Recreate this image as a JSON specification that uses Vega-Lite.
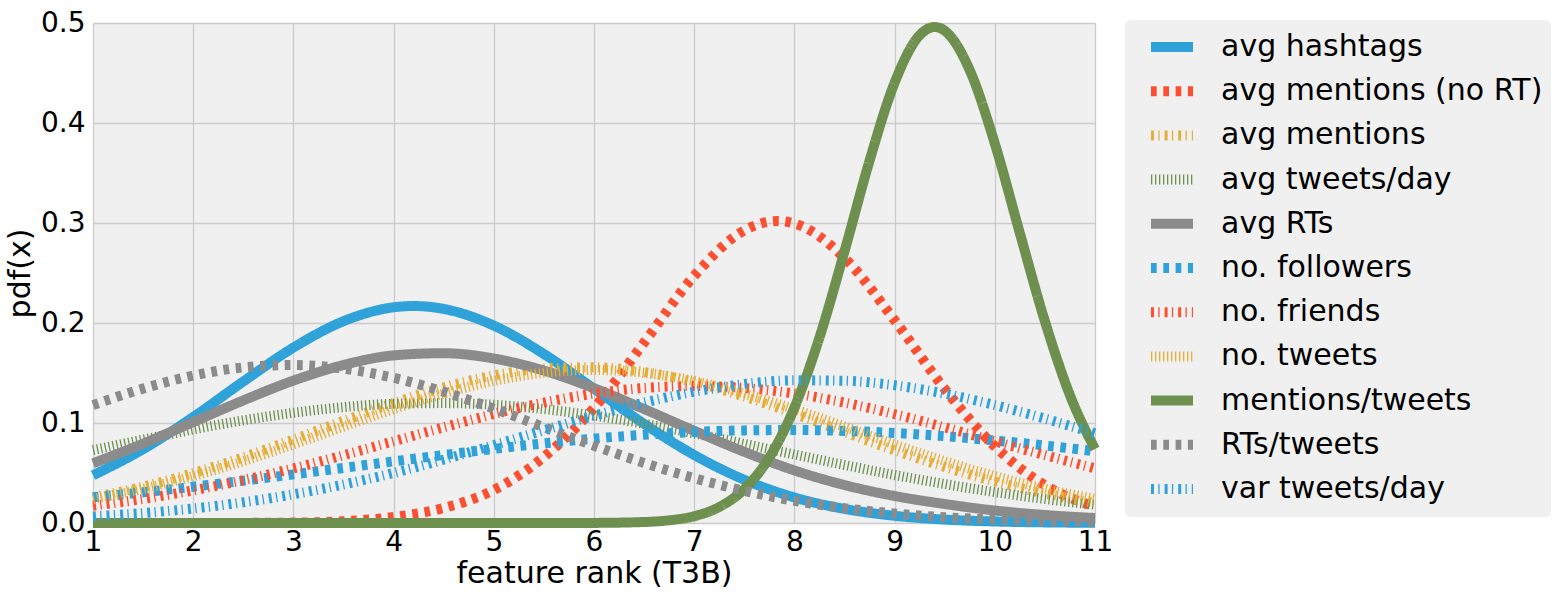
{
  "$schema": "https://vega.github.io/schema/vega-lite/v6.json",
  "width": 1002,
  "height": 500,
  "autosize": "none",
  "padding": {"left": 93, "top": 23, "right": 468, "bottom": 75},
  "background": "white",
  "config": {
    "font": "DejaVu Sans",
    "view": {"fill": "#f0f0f0", "stroke": null},
    "axis": {
      "domain": false,
      "ticks": false,
      "grid": true,
      "gridColor": "#cbcbcb",
      "gridWidth": 1.3,
      "labelFont": "DejaVu Sans",
      "labelFontSize": 28,
      "labelColor": "black",
      "labelFlush": false,
      "titleFont": "DejaVu Sans",
      "titleFontSize": 30,
      "titleFontWeight": "normal",
      "titleColor": "black"
    }
  },
  "data": {
    "values": [
      {"s":"avg hashtags","x":1,"y":0.0477},{"s":"avg hashtags","x":1.5,"y":0.0738},{"s":"avg hashtags","x":2,"y":0.106},{"s":"avg hashtags","x":2.5,"y":0.1415},{"s":"avg hashtags","x":3,"y":0.1754},{"s":"avg hashtags","x":3.5,"y":0.2018},{"s":"avg hashtags","x":4,"y":0.2157},{"s":"avg hashtags","x":4.2,"y":0.217},{"s":"avg hashtags","x":4.5,"y":0.2141},{"s":"avg hashtags","x":5,"y":0.1974},{"s":"avg hashtags","x":5.5,"y":0.169},{"s":"avg hashtags","x":6,"y":0.1343},{"s":"avg hashtags","x":6.5,"y":0.0992},{"s":"avg hashtags","x":7,"y":0.068},{"s":"avg hashtags","x":7.5,"y":0.0433},{"s":"avg hashtags","x":8,"y":0.0256},{"s":"avg hashtags","x":8.5,"y":0.0141},{"s":"avg hashtags","x":9,"y":0.0072},{"s":"avg hashtags","x":9.5,"y":0.0034},{"s":"avg hashtags","x":10,"y":0.0015},{"s":"avg hashtags","x":10.5,"y":0.0006},{"s":"avg hashtags","x":11,"y":0.0002},

      {"s":"avg mentions (no RT)","x":1,"y":0},{"s":"avg mentions (no RT)","x":1.5,"y":0},{"s":"avg mentions (no RT)","x":2,"y":0},{"s":"avg mentions (no RT)","x":2.5,"y":0.0001},{"s":"avg mentions (no RT)","x":3,"y":0.0004},{"s":"avg mentions (no RT)","x":3.5,"y":0.0018},{"s":"avg mentions (no RT)","x":4,"y":0.006},{"s":"avg mentions (no RT)","x":4.5,"y":0.015},{"s":"avg mentions (no RT)","x":5,"y":0.033},{"s":"avg mentions (no RT)","x":5.5,"y":0.066},{"s":"avg mentions (no RT)","x":6,"y":0.115},{"s":"avg mentions (no RT)","x":6.5,"y":0.1804},{"s":"avg mentions (no RT)","x":7,"y":0.2471},{"s":"avg mentions (no RT)","x":7.5,"y":0.2926},{"s":"avg mentions (no RT)","x":7.83,"y":0.302},{"s":"avg mentions (no RT)","x":8,"y":0.2995},{"s":"avg mentions (no RT)","x":8.5,"y":0.265},{"s":"avg mentions (no RT)","x":9,"y":0.2027},{"s":"avg mentions (no RT)","x":9.5,"y":0.134},{"s":"avg mentions (no RT)","x":10,"y":0.0766},{"s":"avg mentions (no RT)","x":10.5,"y":0.0378},{"s":"avg mentions (no RT)","x":11,"y":0.0162},

      {"s":"avg mentions","x":1,"y":0.0256},{"s":"avg mentions","x":1.5,"y":0.0364},{"s":"avg mentions","x":2,"y":0.0499},{"s":"avg mentions","x":2.5,"y":0.0658},{"s":"avg mentions","x":3,"y":0.0835},{"s":"avg mentions","x":3.5,"y":0.102},{"s":"avg mentions","x":4,"y":0.1199},{"s":"avg mentions","x":4.5,"y":0.1356},{"s":"avg mentions","x":5,"y":0.1476},{"s":"avg mentions","x":5.5,"y":0.1545},{"s":"avg mentions","x":6,"y":0.1557},{"s":"avg mentions","x":6.5,"y":0.151},{"s":"avg mentions","x":7,"y":0.1409},{"s":"avg mentions","x":7.5,"y":0.1265},{"s":"avg mentions","x":8,"y":0.1093},{"s":"avg mentions","x":8.5,"y":0.0909},{"s":"avg mentions","x":9,"y":0.0727},{"s":"avg mentions","x":9.5,"y":0.056},{"s":"avg mentions","x":10,"y":0.0415},{"s":"avg mentions","x":10.5,"y":0.0296},{"s":"avg mentions","x":11,"y":0.0203},

      {"s":"avg tweets/day","x":1,"y":0.0728},{"s":"avg tweets/day","x":1.5,"y":0.0834},{"s":"avg tweets/day","x":2,"y":0.0935},{"s":"avg tweets/day","x":2.5,"y":0.1027},{"s":"avg tweets/day","x":3,"y":0.1102},{"s":"avg tweets/day","x":3.5,"y":0.1159},{"s":"avg tweets/day","x":4,"y":0.1192},{"s":"avg tweets/day","x":4.5,"y":0.1199},{"s":"avg tweets/day","x":5,"y":0.1182},{"s":"avg tweets/day","x":5.5,"y":0.1139},{"s":"avg tweets/day","x":6,"y":0.1074},{"s":"avg tweets/day","x":6.5,"y":0.0992},{"s":"avg tweets/day","x":7,"y":0.0896},{"s":"avg tweets/day","x":7.5,"y":0.0792},{"s":"avg tweets/day","x":8,"y":0.0685},{"s":"avg tweets/day","x":8.5,"y":0.058},{"s":"avg tweets/day","x":9,"y":0.048},{"s":"avg tweets/day","x":9.5,"y":0.039},{"s":"avg tweets/day","x":10,"y":0.0309},{"s":"avg tweets/day","x":10.5,"y":0.024},{"s":"avg tweets/day","x":11,"y":0.0182},

      {"s":"avg RTs","x":1,"y":0.0597},{"s":"avg RTs","x":1.5,"y":0.0794},{"s":"avg RTs","x":2,"y":0.1009},{"s":"avg RTs","x":2.5,"y":0.1226},{"s":"avg RTs","x":3,"y":0.1424},{"s":"avg RTs","x":3.5,"y":0.158},{"s":"avg RTs","x":4,"y":0.1676},{"s":"avg RTs","x":4.5,"y":0.1698},{"s":"avg RTs","x":5,"y":0.1645},{"s":"avg RTs","x":5.5,"y":0.1524},{"s":"avg RTs","x":6,"y":0.1348},{"s":"avg RTs","x":6.5,"y":0.114},{"s":"avg RTs","x":7,"y":0.0922},{"s":"avg RTs","x":7.5,"y":0.0712},{"s":"avg RTs","x":8,"y":0.0526},{"s":"avg RTs","x":8.5,"y":0.038},{"s":"avg RTs","x":9,"y":0.027},{"s":"avg RTs","x":9.5,"y":0.019},{"s":"avg RTs","x":10,"y":0.0125},{"s":"avg RTs","x":10.5,"y":0.008},{"s":"avg RTs","x":11,"y":0.005},

      {"s":"no. followers","x":1,"y":0.0257},{"s":"no. followers","x":1.5,"y":0.0307},{"s":"no. followers","x":2,"y":0.0363},{"s":"no. followers","x":2.5,"y":0.0423},{"s":"no. followers","x":3,"y":0.0486},{"s":"no. followers","x":3.5,"y":0.0551},{"s":"no. followers","x":4,"y":0.0616},{"s":"no. followers","x":4.5,"y":0.068},{"s":"no. followers","x":5,"y":0.0741},{"s":"no. followers","x":5.5,"y":0.0796},{"s":"no. followers","x":6,"y":0.0844},{"s":"no. followers","x":6.5,"y":0.0882},{"s":"no. followers","x":7,"y":0.091},{"s":"no. followers","x":7.5,"y":0.0926},{"s":"no. followers","x":8,"y":0.093},{"s":"no. followers","x":8.5,"y":0.0921},{"s":"no. followers","x":9,"y":0.09},{"s":"no. followers","x":9.5,"y":0.0868},{"s":"no. followers","x":10,"y":0.0825},{"s":"no. followers","x":10.5,"y":0.0775},{"s":"no. followers","x":11,"y":0.0717},

      {"s":"no. friends","x":1,"y":0.0173},{"s":"no. friends","x":1.5,"y":0.0241},{"s":"no. friends","x":2,"y":0.0326},{"s":"no. friends","x":2.5,"y":0.0428},{"s":"no. friends","x":3,"y":0.0546},{"s":"no. friends","x":3.5,"y":0.0678},{"s":"no. friends","x":4,"y":0.0817},{"s":"no. friends","x":4.5,"y":0.0957},{"s":"no. friends","x":5,"y":0.1089},{"s":"no. friends","x":5.5,"y":0.1204},{"s":"no. friends","x":6,"y":0.1294},{"s":"no. friends","x":6.5,"y":0.135},{"s":"no. friends","x":7,"y":0.137},{"s":"no. friends","x":7.5,"y":0.135},{"s":"no. friends","x":8,"y":0.1294},{"s":"no. friends","x":8.5,"y":0.1204},{"s":"no. friends","x":9,"y":0.1089},{"s":"no. friends","x":9.5,"y":0.0957},{"s":"no. friends","x":10,"y":0.0817},{"s":"no. friends","x":10.5,"y":0.0678},{"s":"no. friends","x":11,"y":0.0546},

      {"s":"no. tweets","x":1,"y":0.0241},{"s":"no. tweets","x":1.5,"y":0.0342},{"s":"no. tweets","x":2,"y":0.0469},{"s":"no. tweets","x":2.5,"y":0.0618},{"s":"no. tweets","x":3,"y":0.0786},{"s":"no. tweets","x":3.5,"y":0.0964},{"s":"no. tweets","x":4,"y":0.1138},{"s":"no. tweets","x":4.5,"y":0.1295},{"s":"no. tweets","x":5,"y":0.1421},{"s":"no. tweets","x":5.5,"y":0.1502},{"s":"no. tweets","x":6,"y":0.153},{"s":"no. tweets","x":6.5,"y":0.1502},{"s":"no. tweets","x":7,"y":0.1421},{"s":"no. tweets","x":7.5,"y":0.1295},{"s":"no. tweets","x":8,"y":0.1138},{"s":"no. tweets","x":8.5,"y":0.0964},{"s":"no. tweets","x":9,"y":0.0786},{"s":"no. tweets","x":9.5,"y":0.0618},{"s":"no. tweets","x":10,"y":0.0469},{"s":"no. tweets","x":10.5,"y":0.0342},{"s":"no. tweets","x":11,"y":0.0241},

      {"s":"mentions/tweets","x":1,"y":0},{"s":"mentions/tweets","x":2,"y":0},{"s":"mentions/tweets","x":3,"y":0},{"s":"mentions/tweets","x":4,"y":0},{"s":"mentions/tweets","x":5,"y":0},{"s":"mentions/tweets","x":5.5,"y":0},{"s":"mentions/tweets","x":6,"y":0.0001},{"s":"mentions/tweets","x":6.5,"y":0.001},{"s":"mentions/tweets","x":6.75,"y":0.0027},{"s":"mentions/tweets","x":7,"y":0.0068},{"s":"mentions/tweets","x":7.25,"y":0.016},{"s":"mentions/tweets","x":7.5,"y":0.0339},{"s":"mentions/tweets","x":7.75,"y":0.0655},{"s":"mentions/tweets","x":8,"y":0.1155},{"s":"mentions/tweets","x":8.25,"y":0.1855},{"s":"mentions/tweets","x":8.5,"y":0.2716},{"s":"mentions/tweets","x":8.75,"y":0.3623},{"s":"mentions/tweets","x":9,"y":0.4403},{"s":"mentions/tweets","x":9.25,"y":0.4878},{"s":"mentions/tweets","x":9.4,"y":0.496},{"s":"mentions/tweets","x":9.5,"y":0.4923},{"s":"mentions/tweets","x":9.75,"y":0.4528},{"s":"mentions/tweets","x":10,"y":0.3795},{"s":"mentions/tweets","x":10.25,"y":0.2899},{"s":"mentions/tweets","x":10.5,"y":0.2017},{"s":"mentions/tweets","x":10.75,"y":0.1279},{"s":"mentions/tweets","x":11,"y":0.0739},

      {"s":"RTs/tweets","x":1,"y":0.1179},{"s":"RTs/tweets","x":1.5,"y":0.1344},{"s":"RTs/tweets","x":2,"y":0.1474},{"s":"RTs/tweets","x":2.5,"y":0.1556},{"s":"RTs/tweets","x":3,"y":0.158},{"s":"RTs/tweets","x":3.5,"y":0.1544},{"s":"RTs/tweets","x":4,"y":0.1452},{"s":"RTs/tweets","x":4.5,"y":0.1313},{"s":"RTs/tweets","x":5,"y":0.1144},{"s":"RTs/tweets","x":5.5,"y":0.0958},{"s":"RTs/tweets","x":6,"y":0.0773},{"s":"RTs/tweets","x":6.5,"y":0.06},{"s":"RTs/tweets","x":7,"y":0.0448},{"s":"RTs/tweets","x":7.5,"y":0.0322},{"s":"RTs/tweets","x":8,"y":0.0222},{"s":"RTs/tweets","x":8.5,"y":0.0148},{"s":"RTs/tweets","x":9,"y":0.0095},{"s":"RTs/tweets","x":9.5,"y":0.0058},{"s":"RTs/tweets","x":10,"y":0.0035},{"s":"RTs/tweets","x":10.5,"y":0.002},{"s":"RTs/tweets","x":11,"y":0.0011},

      {"s":"var tweets/day","x":1,"y":0.0066},{"s":"var tweets/day","x":1.5,"y":0.0099},{"s":"var tweets/day","x":2,"y":0.0145},{"s":"var tweets/day","x":2.5,"y":0.0207},{"s":"var tweets/day","x":3,"y":0.0287},{"s":"var tweets/day","x":3.5,"y":0.0385},{"s":"var tweets/day","x":4,"y":0.0501},{"s":"var tweets/day","x":4.5,"y":0.0634},{"s":"var tweets/day","x":5,"y":0.0778},{"s":"var tweets/day","x":5.5,"y":0.0927},{"s":"var tweets/day","x":6,"y":0.1072},{"s":"var tweets/day","x":6.5,"y":0.1204},{"s":"var tweets/day","x":7,"y":0.1313},{"s":"var tweets/day","x":7.5,"y":0.1389},{"s":"var tweets/day","x":8,"y":0.1427},{"s":"var tweets/day","x":8.5,"y":0.1422},{"s":"var tweets/day","x":9,"y":0.1377},{"s":"var tweets/day","x":9.5,"y":0.1293},{"s":"var tweets/day","x":10,"y":0.1179},{"s":"var tweets/day","x":10.5,"y":0.1044},{"s":"var tweets/day","x":11,"y":0.0897}
    ]
  },
  "mark": {"type": "line", "strokeWidth": 10, "interpolate": "monotone", "strokeCap": "butt", "strokeJoin": "round"},
  "encoding": {
    "x": {
      "field": "x", "type": "quantitative",
      "scale": {"domain": [1, 11], "nice": false, "zero": false},
      "axis": {"title": "feature rank (T3B)", "values": [1,2,3,4,5,6,7,8,9,10,11], "format": "d", "labelPadding": 5, "titlePadding": 2}
    },
    "y": {
      "field": "y", "type": "quantitative",
      "scale": {"domain": [0, 0.5], "nice": false},
      "axis": {"title": "pdf(x)", "values": [0, 0.1, 0.2, 0.3, 0.4, 0.5], "format": ".1f", "labelPadding": 8, "titlePadding": 5}
    },
    "color": {
      "field": "s", "type": "nominal",
      "scale": {
        "domain": ["avg hashtags","avg mentions (no RT)","avg mentions","avg tweets/day","avg RTs","no. followers","no. friends","no. tweets","mentions/tweets","RTs/tweets","var tweets/day"],
        "range": ["#30a2da","#fc4f30","#e5ae38","#6d904f","#8b8b8b","#30a2da","#fc4f30","#e5ae38","#6d904f","#8b8b8b","#30a2da"]
      },
      "legend": {
        "title": null, "orient": "none", "legendX": 1032, "legendY": -3,
        "fillColor": "#f0f0f0", "cornerRadius": 6, "padding": 8,
        "labelFont": "DejaVu Sans", "labelFontSize": 30, "labelColor": "black", "labelLimit": 0, "labelOffset": 30,
        "symbolType": "M-1.5,0H1.5", "symbolSize": 784, "symbolStrokeWidth": 10, "symbolOffset": 20, "rowPadding": 4.2
      }
    },
    "strokeDash": {
      "field": "s", "type": "nominal",
      "scale": {
        "domain": ["avg hashtags","avg mentions (no RT)","avg mentions","avg tweets/day","avg RTs","no. followers","no. friends","no. tweets","mentions/tweets","RTs/tweets","var tweets/day"],
        "range": [[1,0],[5.7,6.6],[3,4.3,1.3,5],[1.3,2.7],[1,0],[5.7,6.6],[3,4.3,1.3,5],[1.3,2.7],[1,0],[5.7,6.6],[3,4.3,1.3,5]]
      },
      "legend": {
        "title": null, "orient": "none", "legendX": 1032, "legendY": -3,
        "fillColor": "#f0f0f0", "cornerRadius": 6, "padding": 8,
        "labelFont": "DejaVu Sans", "labelFontSize": 30, "labelColor": "black", "labelLimit": 0, "labelOffset": 30,
        "symbolType": "M-1.5,0H1.5", "symbolSize": 784, "symbolStrokeWidth": 10, "symbolOffset": 20, "rowPadding": 4.2
      }
    }
  }
}
